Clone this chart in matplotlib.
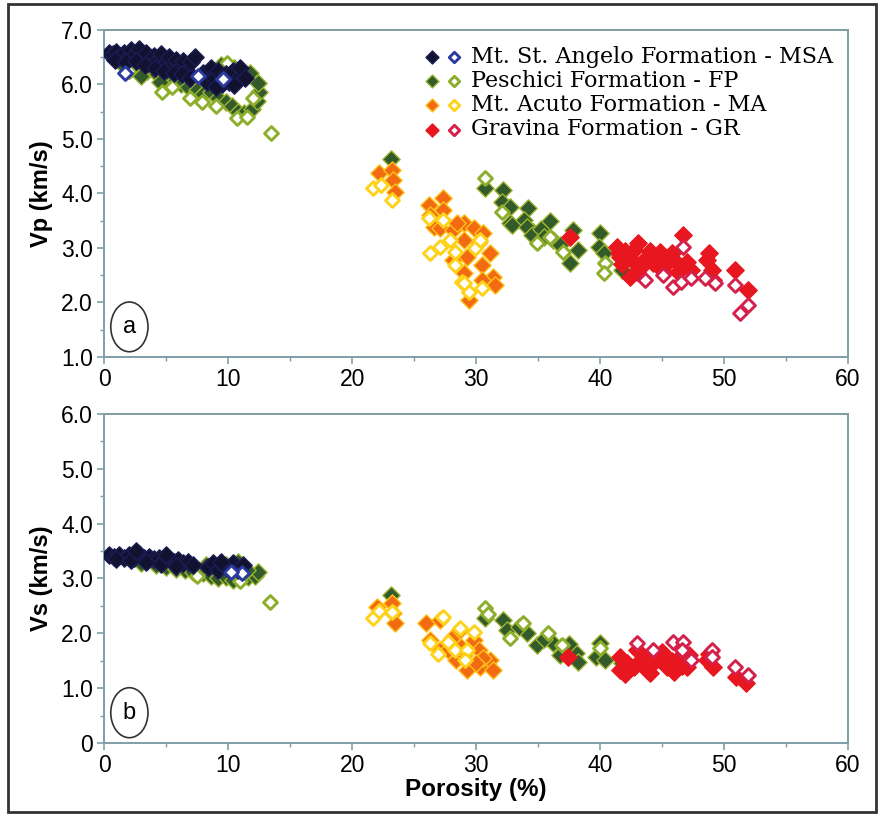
import matplotlib
matplotlib.use("Agg")
import matplotlib.pyplot as plt
from matplotlib.patches import Ellipse, Rectangle
from matplotlib.legend_handler import HandlerTuple
from matplotlib.ticker import MultipleLocator, FuncFormatter

# ---- data: (porosity %, velocity km/s) ----
# panel a: Vp
MSA_VP_FILLED = [(0.4, 6.57), (0.7, 6.55), (1.0, 6.6), (1.3, 6.52), (1.6, 6.58), (1.9, 6.5), (2.2, 6.62),
                 (2.5, 6.55), (2.8, 6.64), (3.1, 6.5), (3.4, 6.58), (3.7, 6.45), (4.0, 6.52), (4.3, 6.42),
                 (4.6, 6.55), (4.9, 6.38), (5.2, 6.5), (5.5, 6.35), (5.8, 6.45), (6.1, 6.3), (6.4, 6.42),
                 (6.7, 6.25), (7.0, 6.4), (7.3, 6.5), (0.9, 6.45), (1.8, 6.4), (2.6, 6.42), (3.3, 6.35),
                 (4.1, 6.3), (4.8, 6.25), (5.6, 6.2), (6.3, 6.18), (6.9, 6.12), (8.0, 6.2), (8.3, 6.05),
                 (8.6, 6.3), (8.9, 6.12), (9.2, 6.25), (9.5, 6.0), (9.8, 6.18), (10.1, 6.05), (10.4, 6.25),
                 (10.7, 6.1), (11.0, 6.3), (11.4, 6.12), (9.0, 5.95), (10.5, 5.98)]
MSA_VP_OPEN = [(1.7, 6.2), (7.6, 6.15), (9.6, 6.1)]

FP_VP_FILLED = [(1.5, 6.35), (2.5, 6.3), (3.5, 6.25), (4.3, 6.18), (5.0, 6.1), (5.6, 6.05), (6.2, 6.0),
                (6.8, 5.95), (7.5, 5.9), (8.0, 5.82), (8.6, 5.85), (9.2, 5.75), (9.8, 5.68), (10.3, 5.6),
                (10.8, 5.5), (11.3, 5.48), (11.9, 5.55), (12.3, 5.7), (12.5, 5.85), (12.4, 6.02), (11.8, 6.2),
                (10.5, 6.3), (9.4, 6.35), (3.0, 6.15), (4.5, 6.05), (23.1, 4.63),
                (30.7, 4.1), (32.2, 4.06), (32.1, 3.84), (32.7, 3.75), (32.7, 3.46), (34.2, 3.73),
                (33.9, 3.51), (34.6, 3.29), (32.9, 3.42), (34.1, 3.39), (34.5, 3.24), (36.2, 3.15),
                (36.8, 3.06), (37.8, 3.33), (38.2, 2.96), (37.6, 2.72), (40.0, 3.28), (39.9, 3.02),
                (40.3, 2.91), (41.8, 2.6), (35.2, 3.35), (36.0, 3.5), (35.5, 3.2)]
FP_VP_OPEN = [(4.7, 5.85), (6.9, 5.75), (7.9, 5.68), (10.7, 5.38), (11.5, 5.4), (9.9, 6.39), (13.5, 5.1),
              (2.0, 6.25), (5.5, 5.95), (9.0, 5.6), (12.0, 5.75), (30.7, 4.28), (32.1, 3.66), (34.9, 3.09),
              (37.0, 2.93), (40.4, 2.72), (40.3, 2.54), (36.0, 3.2)]

MA_VP_FILLED = [(22.2, 4.37), (23.2, 4.43), (23.3, 4.25), (23.5, 4.03), (26.2, 3.79), (27.3, 3.91),
                (27.3, 3.7), (26.6, 3.39), (27.1, 3.37), (28.1, 3.33), (29.0, 3.46), (29.8, 3.37),
                (30.6, 3.28), (29.0, 3.15), (29.3, 2.84), (30.5, 2.69), (31.1, 2.91), (31.4, 2.47),
                (31.5, 2.32), (30.5, 2.41), (29.4, 2.05), (28.1, 2.78), (29.0, 2.54), (28.5, 3.45),
                (30.2, 3.1), (26.3, 3.6)]
MA_VP_OPEN = [(21.7, 4.1), (22.3, 4.16), (23.2, 3.88), (26.2, 3.55), (27.3, 3.51), (26.3, 2.91),
              (27.1, 3.02), (27.9, 3.15), (28.3, 2.93), (28.3, 2.69), (28.9, 2.38), (29.4, 2.2),
              (29.9, 3.0), (30.3, 3.15), (30.5, 2.27), (29.0, 2.36)]

GR_VP_FILLED = [(37.6, 3.2), (41.4, 3.02), (41.6, 2.84), (42.0, 2.95), (42.7, 2.96), (43.1, 3.09),
                (42.4, 2.47), (43.8, 2.84), (44.3, 2.72), (44.8, 2.93), (45.4, 2.72), (46.0, 2.78),
                (46.7, 3.24), (46.7, 2.66), (47.3, 2.6), (48.6, 2.78), (49.0, 2.6), (49.1, 2.41),
                (50.9, 2.6), (51.9, 2.23), (41.8, 2.7), (42.5, 2.8), (43.3, 2.65), (44.0, 2.95),
                (45.0, 2.6), (45.8, 2.9), (43.0, 2.55), (47.0, 2.75), (48.8, 2.9), (41.5, 2.9),
                (44.5, 2.8), (46.3, 2.55)]
GR_VP_OPEN = [(46.7, 3.02), (43.6, 2.41), (45.1, 2.5), (45.9, 2.29), (46.5, 2.38), (47.3, 2.45),
              (48.5, 2.45), (49.3, 2.36), (50.9, 2.32), (51.3, 1.81), (51.9, 1.95)]

# panel b: Vs
MSA_VS_FILLED = [(0.4, 3.42), (0.8, 3.4), (1.2, 3.43), (1.6, 3.38), (2.0, 3.42), (2.4, 3.38), (2.8, 3.45),
                 (3.2, 3.38), (3.6, 3.4), (4.0, 3.35), (4.4, 3.38), (4.8, 3.33), (5.2, 3.36), (5.6, 3.3),
                 (6.0, 3.33), (6.4, 3.28), (6.8, 3.3), (7.2, 3.25), (1.0, 3.35), (2.2, 3.33), (3.4, 3.3),
                 (4.6, 3.27), (5.8, 3.22), (2.6, 3.5), (5.0, 3.42), (8.4, 3.2), (8.8, 3.28), (9.2, 3.15),
                 (9.6, 3.25), (10.0, 3.18), (10.4, 3.28), (10.8, 3.15), (11.2, 3.25), (9.4, 3.3)]
MSA_VS_OPEN = [(11.1, 3.1), (10.2, 3.12)]

FP_VS_FILLED = [(3.0, 3.28), (4.2, 3.25), (5.0, 3.2), (5.8, 3.18), (6.5, 3.15), (7.2, 3.12), (8.0, 3.1),
                (8.6, 3.05), (9.2, 3.0), (9.8, 3.02), (10.4, 2.98), (11.0, 3.0), (11.6, 3.02), (12.2, 3.05),
                (12.4, 3.12), (11.5, 3.15), (9.8, 3.25), (10.8, 3.3), (8.2, 3.25), (23.1, 2.7),
                (30.7, 2.28), (32.2, 2.24), (32.5, 2.06), (34.1, 2.0), (34.9, 1.78), (36.2, 1.82),
                (37.3, 1.69), (38.1, 1.64), (38.2, 1.48), (36.8, 1.6), (40.0, 1.82), (39.7, 1.57),
                (40.4, 1.51), (33.5, 2.12), (35.5, 1.9), (37.5, 1.8), (41.8, 1.45)]
FP_VS_OPEN = [(13.4, 2.57), (7.5, 3.05), (11.0, 2.95), (10.5, 3.15), (30.7, 2.46), (32.7, 1.91),
              (33.8, 2.18), (35.8, 2.0), (36.9, 1.78), (40.0, 1.73), (31.0, 2.35)]

MA_VS_FILLED = [(22.0, 2.48), (23.2, 2.55), (23.3, 2.37), (23.5, 2.19), (26.0, 2.19), (27.1, 2.24),
                (26.3, 1.88), (27.1, 1.69), (28.1, 1.93), (28.7, 2.06), (29.8, 1.88), (30.2, 1.69),
                (28.4, 1.52), (29.3, 1.33), (30.3, 1.38), (31.1, 1.51), (31.4, 1.33), (27.7, 1.7),
                (29.0, 1.6), (30.6, 1.55), (28.8, 1.75), (30.0, 1.45)]
MA_VS_OPEN = [(21.7, 2.28), (23.2, 2.39), (27.3, 2.3), (26.3, 1.82), (26.9, 1.63), (28.7, 2.09),
              (29.8, 2.02), (27.7, 1.84), (28.3, 1.69), (29.3, 1.69), (29.1, 1.51), (22.2, 2.4)]

GR_VS_FILLED = [(37.4, 1.57), (41.6, 1.57), (41.6, 1.33), (42.2, 1.45), (42.7, 1.38), (43.2, 1.5),
                (43.8, 1.57), (43.8, 1.33), (44.3, 1.45), (44.8, 1.51), (45.4, 1.38), (45.8, 1.5),
                (46.2, 1.51), (46.6, 1.4), (47.0, 1.38), (48.6, 1.51), (49.1, 1.38), (48.8, 1.62),
                (51.0, 1.2), (51.8, 1.09), (42.0, 1.25), (44.0, 1.28), (46.0, 1.3), (47.2, 1.6),
                (45.0, 1.65), (43.0, 1.7)]
GR_VS_OPEN = [(43.0, 1.82), (44.3, 1.69), (45.9, 1.84), (46.7, 1.84), (46.6, 1.69), (47.3, 1.51),
              (49.0, 1.69), (49.0, 1.57), (50.9, 1.38), (51.9, 1.24)]

LABELS = ["Mt. St. Angelo Formation - MSA", "Peschici Formation - FP",
          "Mt. Acuto Formation - MA", "Gravina Formation - GR"]

# face colour of filled marker, edge of filled marker, edge of open marker
STYLES = {
    "MSA": ("#111130", "#1c1c55", "#2a3aa0"),
    "FP": ("#325a2a", "#9db530", "#8cae2a"),
    "MA": ("#f26a12", "#ffc21a", "#ffd21a"),
    "GR": ("#e8161f", "#e8161f", "#d6204c"),
}

AXIS_COLOR = "#7e9ea6"
plt.rcParams["font.family"] = ["Liberation Sans", "DejaVu Sans"]

fig = plt.figure(figsize=(8.82, 8.18), dpi=100)
ax_a = fig.add_axes([0.118, 0.5636, 0.8435, 0.400])
ax_b = fig.add_axes([0.118, 0.0917, 0.8435, 0.4023])

fig.patches.append(Rectangle((0.009, 0.007), 0.984, 0.988, transform=fig.transFigure,
                             fill=False, edgecolor="#333333", linewidth=2))


def draw(ax, groups):
    handles = []
    for key, filled, opened in groups:
        face, edge, oedge = STYLES[key]
        h1 = ax.scatter([p[0] for p in filled], [p[1] for p in filled], marker="D", s=78,
                        facecolor=face, edgecolor=edge, linewidths=1.0, zorder=3)
        h2 = ax.scatter([p[0] for p in opened], [p[1] for p in opened], marker="D", s=50,
                        facecolor="white", edgecolor=oedge, linewidths=2.1, zorder=3)
        handles.append((key, h1, h2))
    return handles


order_a = [("FP", FP_VP_FILLED, FP_VP_OPEN), ("MSA", MSA_VP_FILLED, MSA_VP_OPEN),
           ("MA", MA_VP_FILLED, MA_VP_OPEN), ("GR", GR_VP_FILLED, GR_VP_OPEN)]
order_b = [("FP", FP_VS_FILLED, FP_VS_OPEN), ("MSA", MSA_VS_FILLED, MSA_VS_OPEN),
           ("MA", MA_VS_FILLED, MA_VS_OPEN), ("GR", GR_VS_FILLED, GR_VS_OPEN)]

hs = draw(ax_a, order_a)
draw(ax_b, order_b)

for ax, lo, hi in [(ax_a, 1.0, 7.0), (ax_b, 0.0, 6.0)]:
    ax.set_xlim(0, 60)
    ax.set_ylim(lo, hi)
    ax.xaxis.set_major_locator(MultipleLocator(10))
    ax.xaxis.set_minor_locator(MultipleLocator(5))
    ax.yaxis.set_major_locator(MultipleLocator(1))
    ax.yaxis.set_minor_locator(MultipleLocator(0.5))
    ax.yaxis.set_major_formatter(FuncFormatter(lambda v, p: "0" if v == 0 else "%.1f" % v))
    ax.tick_params(which="both", direction="out", color=AXIS_COLOR, labelsize=16.5, pad=3)
    ax.tick_params(which="major", length=5, width=1.2)
    ax.tick_params(which="minor", length=3, width=1.0)
    for sp in ax.spines.values():
        sp.set_color(AXIS_COLOR)
        sp.set_linewidth(1.4)

ax_a.set_ylabel("Vp (km/s)", fontsize=17, fontweight="bold", labelpad=6)
ax_b.set_ylabel("Vs (km/s)", fontsize=17, fontweight="bold", labelpad=6)
ax_b.set_xlabel("Porosity (%)", fontsize=17.5, fontweight="bold", labelpad=1)

# circled panel letters
for ax, letter in [(ax_a, "a"), (ax_b, "b")]:
    ax.add_patch(Ellipse((0.034, 0.092), 0.05, 0.152, transform=ax.transAxes,
                         fill=False, edgecolor="#333333", linewidth=1.2))
    ax.text(0.034, 0.092, letter, transform=ax.transAxes, ha="center", va="center",
            fontsize=17)

name_of = {"MSA": LABELS[0], "FP": LABELS[1], "MA": LABELS[2], "GR": LABELS[3]}
legend_order = ["MSA", "FP", "MA", "GR"]
hmap = {k: (h1, h2) for k, h1, h2 in hs}
leg = ax_a.legend([hmap[k] for k in legend_order], [name_of[k] for k in legend_order],
                  handler_map={tuple: HandlerTuple(ndivide=None, pad=0.5)},
                  loc="upper left", bbox_to_anchor=(0.418, 0.985), frameon=False,
                  prop={"family": "DejaVu Serif", "size": 16},
                  handlelength=1.5, handletextpad=0.5, labelspacing=0.1, borderpad=0,
                  markerscale=0.75)

fig.savefig("out.png", dpi=100)
